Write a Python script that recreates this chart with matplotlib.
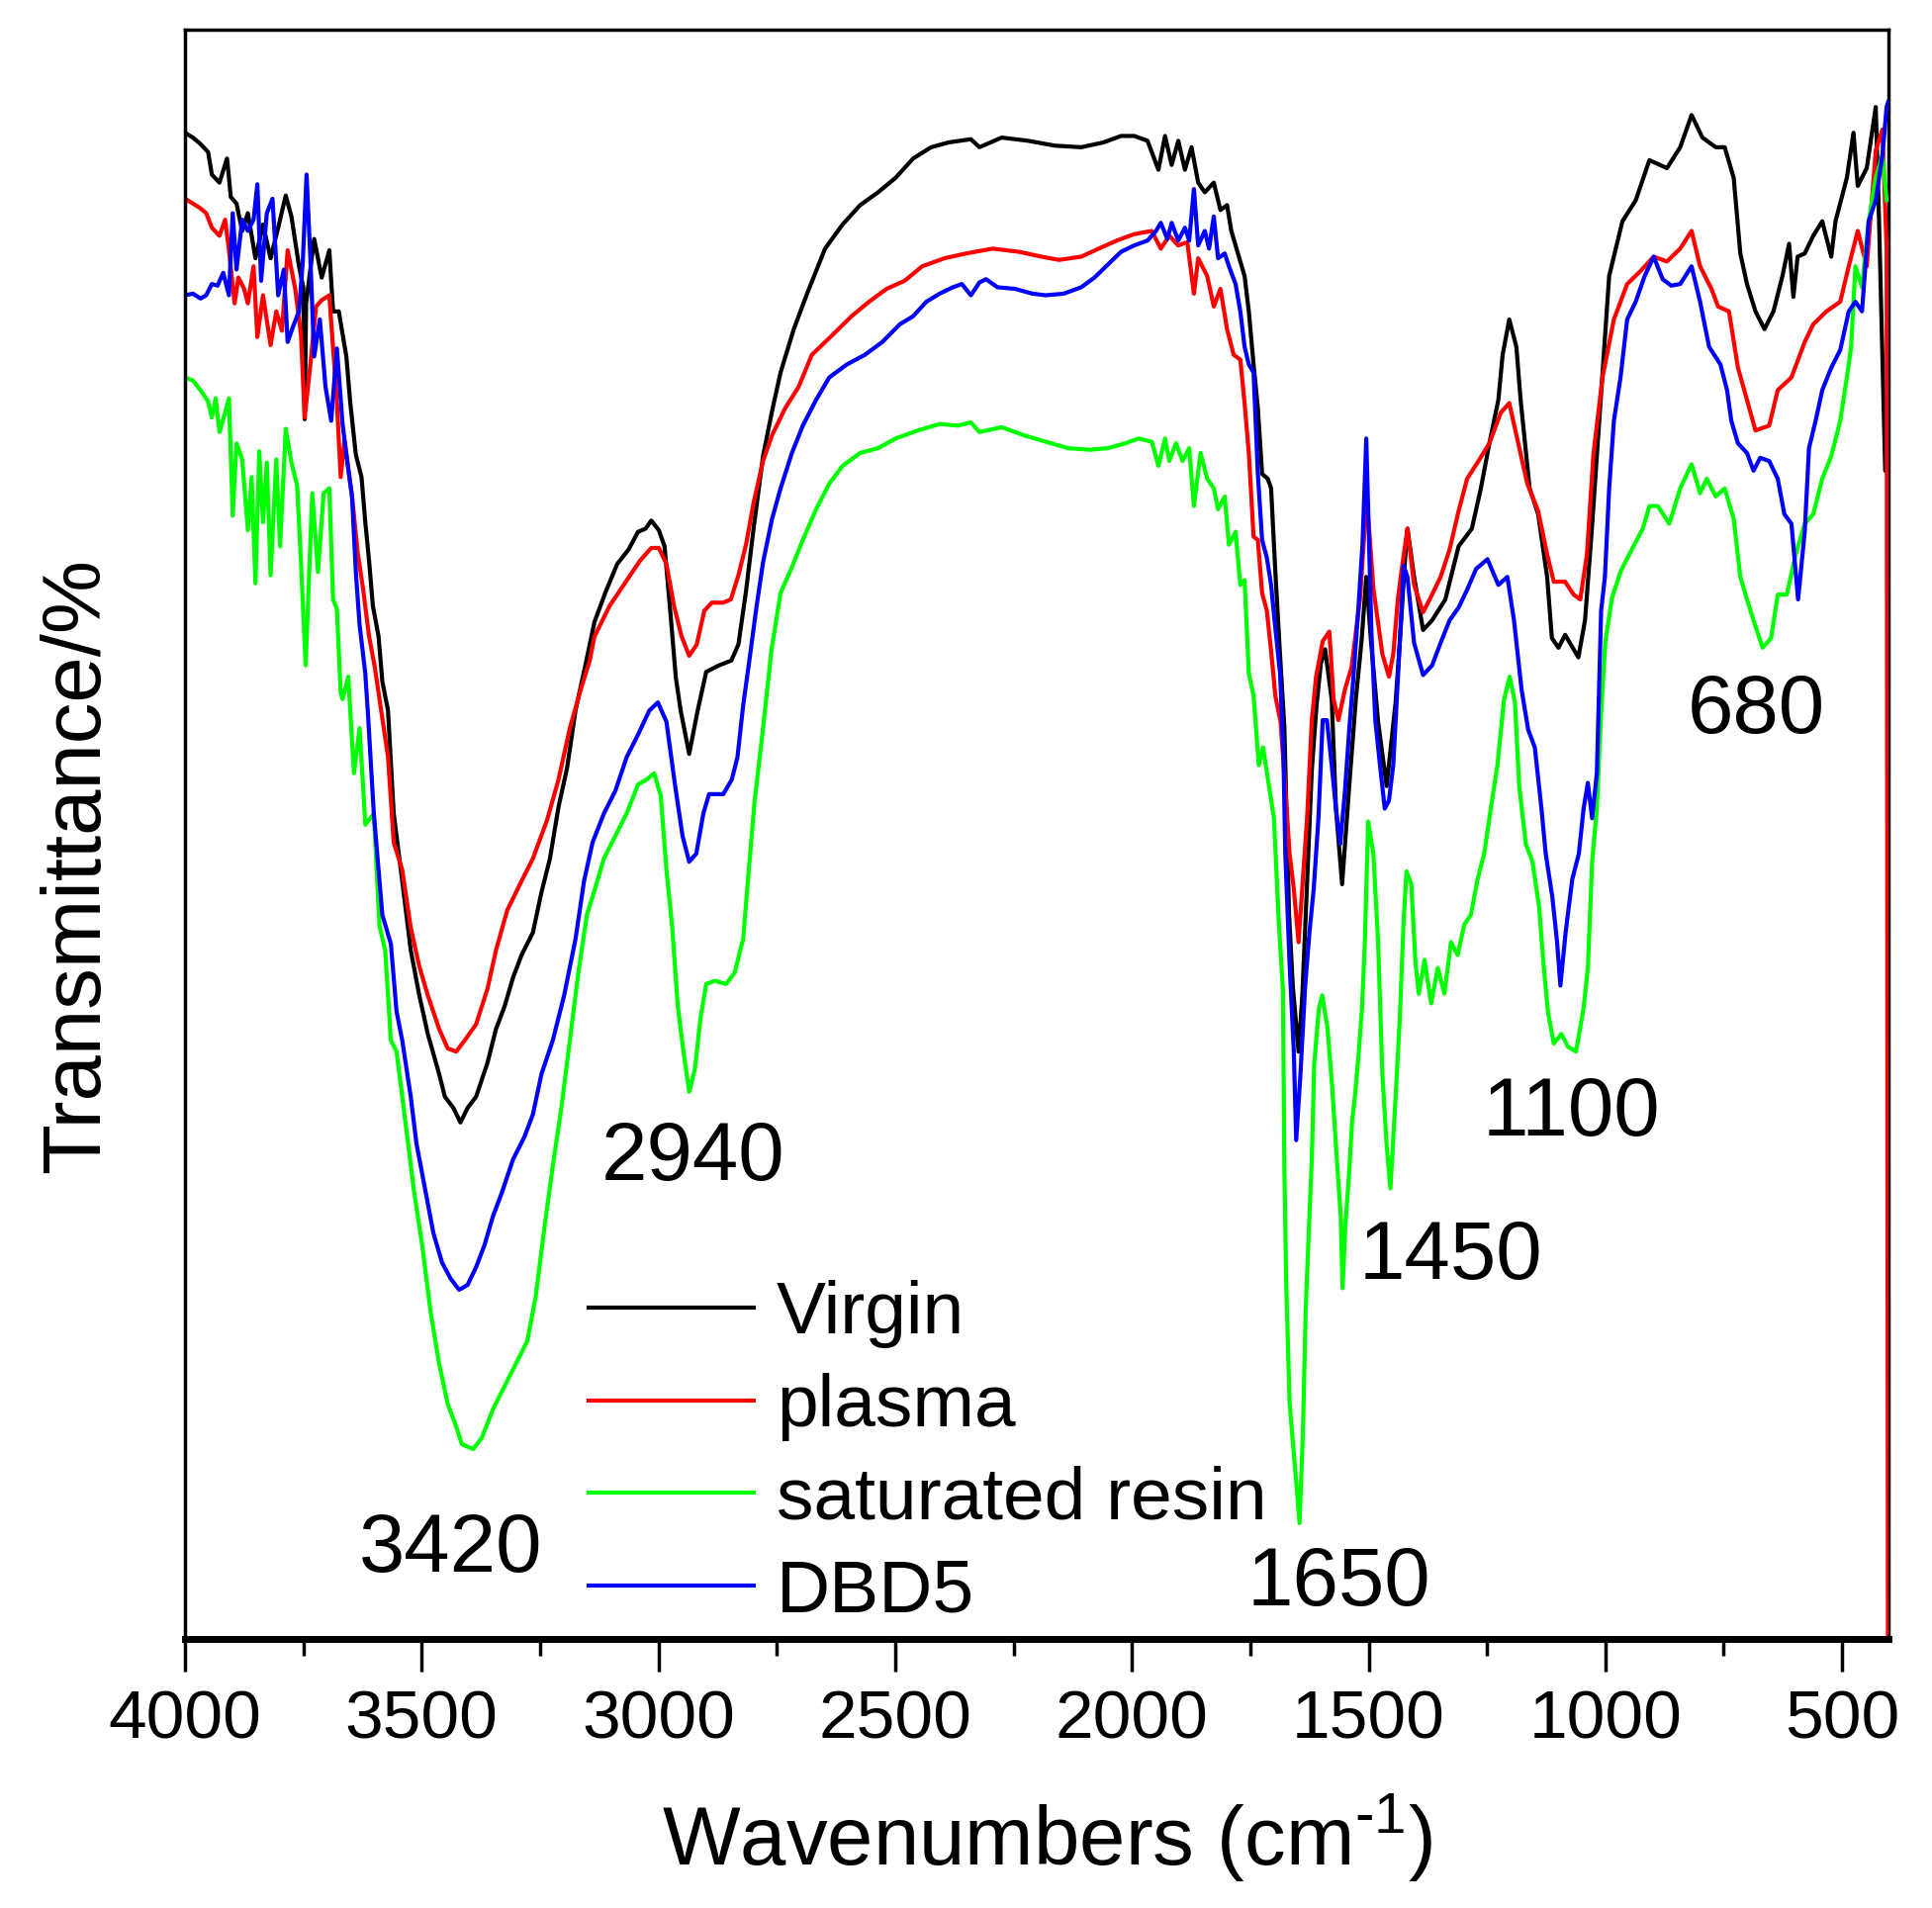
import matplotlib
matplotlib.use("Agg")
import matplotlib.pyplot as plt
from matplotlib.ticker import MultipleLocator

plt.rcParams['font.family'] = ['Liberation Sans', 'DejaVu Sans']
plt.rcParams['mathtext.fontset'] = 'custom'
plt.rcParams['mathtext.rm'] = 'Liberation Sans'

# wavenumbers (cm-1) and transmittance (arb. %)
virgin_wn = [4000, 3983, 3967, 3951, 3943, 3927, 3911, 3903, 3891, 3879, 3867, 3851, 3835, 3819,
             3803, 3787, 3775, 3759, 3750, 3747, 3744, 3727, 3711, 3695, 3687, 3675, 3659, 3651,
             3639, 3627, 3619, 3611, 3603, 3591, 3583, 3571, 3559, 3541, 3523, 3505, 3487, 3463,
             3451, 3433, 3418, 3403, 3385, 3361, 3343, 3325, 3307, 3289, 3265, 3247, 3229, 3211,
             3193, 3175, 3155, 3135, 3111, 3087, 3063, 3043, 3027, 3015, 2999, 2987, 2975, 2963,
             2953, 2935, 2917, 2899, 2872, 2846, 2831, 2815, 2799, 2779, 2760, 2742, 2714, 2686,
             2648, 2611, 2574, 2536, 2499, 2462, 2424, 2387, 2340, 2322, 2275, 2219, 2163, 2107,
             2060, 2023, 1995, 1967, 1944, 1930, 1916, 1902, 1888, 1874, 1860, 1846, 1827, 1813,
             1799, 1790, 1776, 1762, 1753, 1743, 1734, 1725, 1713, 1706, 1697, 1687, 1678, 1668,
             1660, 1648, 1640, 1630, 1620, 1610, 1601, 1592, 1578, 1569, 1556, 1541, 1527, 1515,
             1505, 1495, 1480, 1462, 1443, 1434, 1424, 1418, 1404, 1385, 1366, 1338, 1310, 1282,
             1263, 1245, 1226, 1217, 1203, 1188, 1179, 1160, 1142, 1123, 1113, 1099, 1085, 1057,
             1043, 1029, 1010, 992, 964, 936, 907, 870, 842, 818, 795, 767, 748, 729, 715, 701,
             683, 664, 645, 626, 612, 603, 594, 579, 561, 542, 523, 514, 490, 476, 467, 448, 429,
             422, 415, 409, 405]
virgin_t = [93.6, 93.3, 92.9, 92.4, 91.0, 90.5, 92.0, 89.6, 89.2, 87.5, 88.6, 85.8, 87.9, 85.8,
            87.7, 89.7, 88.4, 85.3, 84.0, 75.8, 83.0, 87.0, 84.6, 86.3, 82.5, 82.5, 79.7, 76.9,
            73.6, 72.2, 69.4, 67.0, 64.2, 62.3, 59.5, 57.7, 51.3, 47.1, 42.8, 40.0, 37.6, 35.1,
            33.7, 33.0, 32.1, 33.0, 33.7, 35.8, 37.9, 39.3, 41.1, 42.5, 43.9, 46.4, 48.5, 51.7,
            54.1, 57.7, 60.4, 63.2, 65.1, 66.8, 67.7, 68.8, 69.0, 69.5, 68.9, 67.9, 63.9, 59.7,
            57.7, 55.0, 57.7, 60.1, 60.5, 60.8, 61.8, 65.1, 69.0, 73.5, 76.3, 78.7, 81.4, 83.6,
            86.4, 87.9, 89.1, 89.9, 90.8, 92.0, 92.7, 93.0, 93.2, 92.7, 93.3, 93.1, 92.8, 92.7,
            93.0, 93.4, 93.4, 93.1, 91.3, 93.4, 91.6, 93.1, 91.3, 92.7, 90.5, 89.9, 90.5, 88.8,
            89.1, 87.5, 86.1, 84.7, 82.5, 79.2, 76.5, 72.4, 72.1, 71.5, 66.3, 61.1, 56.7, 45.0,
            40.5, 36.5, 40.0, 47.0, 54.0, 58.0, 60.6, 61.5, 58.4, 51.6, 46.9, 53.0, 58.4, 62.0,
            66.0, 62.0, 57.0, 53.0, 58.2, 62.0, 66.7, 69.0, 66.0, 62.7, 63.3, 64.6, 67.9, 69.0,
            71.5, 74.3, 77.0, 79.8, 82.0, 80.3, 77.0, 71.5, 69.9, 66.0, 62.2, 61.6, 62.4, 61.0,
            63.3, 68.8, 77.0, 84.7, 88.1, 89.4, 91.9, 91.4, 92.7, 94.7, 93.3, 92.7, 92.7, 90.8,
            86.1, 84.2, 82.5, 81.4, 82.5, 84.7, 86.7, 83.4, 85.9, 86.1, 87.2, 88.1, 85.9, 88.1,
            90.8, 93.6, 90.3, 91.4, 95.2, 88.1, 79.8, 72.6, 72.5]

plasma_wn = [4000, 3983, 3967, 3955, 3943, 3927, 3915, 3907, 3895, 3887, 3875, 3867, 3855, 3847,
             3835, 3819, 3807, 3795, 3783, 3767, 3755, 3747, 3735, 3723, 3711, 3695, 3679, 3671,
             3663, 3647, 3635, 3623, 3611, 3599, 3589, 3571, 3559, 3541, 3523, 3505, 3487, 3463,
             3445, 3427, 3409, 3385, 3361, 3343, 3319, 3289, 3265, 3235, 3211, 3187, 3163, 3145,
             3135, 3103, 3071, 3039, 3015, 2999, 2983, 2967, 2951, 2935, 2919, 2903, 2887, 2863,
             2847, 2831, 2815, 2799, 2779, 2760, 2732, 2704, 2676, 2630, 2592, 2555, 2518, 2480,
             2443, 2396, 2350, 2294, 2238, 2191, 2154, 2107, 2070, 2032, 1995, 1958, 1939, 1921,
             1902, 1883, 1869, 1860, 1841, 1827, 1813, 1799, 1785, 1771, 1762, 1753, 1743, 1734,
             1725, 1715, 1706, 1697, 1686, 1676, 1667, 1658, 1648, 1639, 1630, 1620, 1611, 1597,
             1583, 1574, 1564, 1550, 1536, 1518, 1504, 1490, 1471, 1457, 1448, 1438, 1429, 1418,
             1404, 1385, 1366, 1348, 1329, 1310, 1292, 1268, 1245, 1221, 1203, 1184, 1165, 1142,
             1123, 1109, 1085, 1067, 1053, 1039, 1025, 1006, 982, 954, 926, 898, 870, 842, 818,
             800, 776, 762, 739, 720, 701, 683, 654, 636, 607, 579, 561, 533, 504, 486, 467, 448,
             429, 415, 406, 403]
plasma_t = [89.5, 89.2, 88.9, 88.6, 87.7, 87.2, 88.2, 86.3, 83.0, 84.6, 83.9, 83.0, 85.3, 80.9,
            83.5, 80.4, 82.5, 81.3, 86.3, 83.9, 81.1, 75.9, 79.2, 82.8, 83.2, 83.5, 76.9, 72.2,
            74.5, 71.0, 67.5, 65.1, 62.3, 60.4, 58.4, 54.8, 49.5, 47.8, 44.2, 41.8, 40.0, 37.9,
            36.7, 36.5, 37.2, 38.2, 40.4, 42.8, 45.3, 47.1, 48.5, 50.9, 53.4, 56.6, 59.1, 60.8,
            62.3, 64.2, 65.6, 67.0, 67.8, 67.8, 66.8, 64.2, 62.3, 61.1, 61.8, 63.9, 64.4, 64.4,
            64.6, 66.1, 68.0, 70.6, 73.2, 74.8, 76.5, 77.8, 79.8, 81.1, 82.2, 83.1, 83.9, 84.4,
            85.3, 85.8, 86.1, 86.4, 86.2, 85.9, 85.7, 85.9, 86.4, 86.9, 87.3, 87.5, 86.4, 87.2,
            86.6, 86.8, 83.6, 85.8, 84.7, 82.8, 83.9, 81.4, 79.8, 79.5, 76.8, 73.7, 68.5, 68.3,
            65.0, 63.9, 61.4, 58.6, 57.0, 52.9, 48.8, 46.6, 43.3, 47.2, 51.0, 57.1, 59.8, 62.0,
            62.6, 58.4, 57.1, 59.0, 60.4, 64.7, 71.0, 65.3, 61.2, 59.8, 61.2, 64.7, 66.7, 69.0,
            65.5, 63.8, 64.9, 66.0, 67.7, 70.1, 72.1, 73.2, 74.3, 76.2, 76.8, 74.3, 71.8, 70.1,
            67.4, 65.7, 65.7, 64.9, 64.6, 67.4, 73.7, 78.4, 82.0, 84.2, 85.0, 85.9, 85.6, 86.4, 87.5,
            85.3, 83.9, 82.8, 82.5, 79.0, 77.0, 75.1, 75.4, 77.6, 78.4, 80.6, 81.7, 82.5, 83.1,
            85.3, 87.5, 85.3, 92.5, 93.8, 86.4, -10.0]

resin_wn = [4000, 3983, 3967, 3951, 3943, 3935, 3927, 3915, 3907, 3899, 3891, 3879, 3867, 3859,
            3851, 3843, 3835, 3827, 3819, 3807, 3799, 3787, 3775, 3763, 3755, 3745, 3731, 3719,
            3707, 3695, 3687, 3679, 3671, 3667, 3655, 3643, 3631, 3619, 3601, 3589, 3577, 3565,
            3553, 3541, 3529, 3517, 3499, 3481, 3463, 3445, 3427, 3415, 3391, 3373, 3349, 3325,
            3301, 3277, 3259, 3241, 3223, 3205, 3187, 3169, 3151, 3133, 3115, 3091, 3067, 3043,
            3025, 3009, 2995, 2983, 2971, 2959, 2947, 2935, 2923, 2911, 2899, 2881, 2857, 2839,
            2821, 2809, 2797, 2779, 2761, 2742, 2718, 2695, 2667, 2639, 2611, 2574, 2536, 2499,
            2452, 2406, 2368, 2340, 2322, 2275, 2228, 2182, 2135, 2088, 2051, 2014, 1986, 1958,
            1944, 1930, 1921, 1907, 1893, 1879, 1869, 1855, 1841, 1827, 1818, 1804, 1795, 1781,
            1771, 1762, 1753, 1743, 1732, 1723, 1709, 1700, 1690, 1681, 1678, 1674, 1667, 1660,
            1653, 1646, 1639, 1633, 1626, 1620, 1615, 1605, 1598, 1587, 1577, 1566, 1559, 1555,
            1549, 1542, 1535, 1528, 1521, 1514, 1508, 1501, 1490, 1480, 1471, 1462, 1454, 1443,
            1434, 1426, 1420, 1410, 1401, 1394, 1382, 1368, 1354, 1340, 1326, 1312, 1298, 1284,
            1270, 1256, 1242, 1228, 1214, 1202, 1191, 1182, 1168, 1154, 1140, 1130, 1121, 1109,
            1093, 1079, 1062, 1046, 1037, 1028, 1018, 1009, 1000, 986, 967, 939, 921, 907, 889,
            865, 842, 818, 800, 786, 767, 748, 729, 715, 701, 687, 668, 650, 636, 617, 598, 579,
            561, 542, 523, 504, 490, 481, 472, 458, 444, 429, 415, 406]
resin_t = [78.4, 78.2, 77.6, 76.9, 75.9, 77.1, 75.0, 76.2, 77.1, 69.8, 74.3, 73.3, 68.9, 72.2,
           65.6, 73.8, 69.4, 73.1, 66.1, 73.3, 67.9, 75.2, 73.1, 71.7, 67.0, 60.5, 71.2, 66.3,
           71.2, 71.5, 64.6, 64.0, 58.8, 58.4, 59.8, 53.8, 56.6, 50.6, 51.3, 44.3, 42.8, 37.2,
           36.5, 33.7, 30.9, 28.0, 24.5, 20.3, 17.1, 14.6, 13.2, 12.1, 11.8, 12.5, 14.3, 15.7,
           17.1, 18.5, 21.3, 25.5, 29.4, 33.0, 37.2, 41.4, 45.0, 46.7, 48.5, 49.9, 51.3, 53.1,
           53.4, 53.8, 52.4, 47.8, 44.3, 39.3, 36.5, 34.0, 35.4, 38.6, 40.7, 40.9, 40.7, 41.4,
           43.5, 47.8, 52.0, 56.6, 61.5, 65.0, 66.6, 68.3, 70.2, 71.8, 72.9, 73.7, 74.0, 74.6,
           75.1, 75.5, 75.4, 75.6, 75.0, 75.3, 74.8, 74.4, 74.0, 73.9, 74.0, 74.3, 74.6, 74.4,
           72.9, 74.6, 73.2, 74.3, 73.2, 74.0, 70.4, 73.7, 72.1, 71.5, 70.2, 71.0, 68.0, 68.8,
           65.5, 65.8, 60.0, 58.6, 54.3, 55.4, 52.7, 51.0, 44.7, 40.3, 29.3, 22.0, 14.7, 12.2,
           9.8, 7.2, 12.6, 20.4, 25.6, 29.8, 35.7, 39.2, 40.0, 38.0, 34.3, 29.3, 26.3, 21.8,
           25.8, 28.6, 32.1, 34.0, 36.4, 39.2, 43.3, 50.8, 48.8, 43.3, 35.1, 30.7, 28.0, 33.7,
           38.7, 44.7, 47.7, 46.9, 42.0, 40.1, 42.2, 39.5, 41.7, 40.1, 43.3, 42.5, 44.4, 45.0,
           47.2, 48.8, 51.6, 54.3, 58.4, 59.8, 58.2, 53.0, 49.4, 48.3, 45.5, 41.7, 38.9, 37.0,
           37.6, 36.8, 36.5, 39.2, 41.7, 48.3, 51.6, 57.6, 62.0, 64.7, 66.4, 68.0, 69.0, 70.4, 70.4,
           69.3, 71.5, 73.0, 71.2, 72.1, 71.0, 71.5, 69.6, 66.0, 64.6, 63.3, 61.6, 62.2, 64.9,
           64.9, 67.4, 69.3, 69.9, 72.1, 73.5, 75.7, 78.4, 80.3, 85.3, 84.0, 88.1, 90.8, 92.2,
           89.4]

dbd5_wn = [4000, 3983, 3967, 3955, 3943, 3931, 3919, 3907, 3899, 3891, 3879, 3867, 3855, 3847,
           3839, 3827, 3815, 3803, 3791, 3783, 3771, 3759, 3751, 3743, 3735, 3727, 3715, 3703,
           3691, 3679, 3667, 3655, 3647, 3639, 3631, 3619, 3613, 3601, 3583, 3565, 3553, 3541,
           3523, 3511, 3493, 3475, 3457, 3439, 3421, 3403, 3385, 3367, 3349, 3331, 3307, 3283,
           3265, 3247, 3223, 3199, 3175, 3157, 3139, 3115, 3091, 3067, 3043, 3019, 3001, 2983,
           2965, 2949, 2935, 2920, 2905, 2893, 2863, 2845, 2833, 2821, 2807, 2793, 2779, 2760,
           2742, 2718, 2695, 2667, 2639, 2602, 2564, 2527, 2490, 2462, 2434, 2406, 2378, 2359,
           2340, 2322, 2308, 2284, 2247, 2210, 2182, 2144, 2107, 2079, 2051, 2023, 1995, 1967,
           1949, 1939, 1925, 1916, 1902, 1888, 1879, 1869, 1860, 1846, 1837, 1827, 1818, 1804,
           1795, 1781, 1771, 1762, 1753, 1743, 1734, 1725, 1715, 1706, 1697, 1687, 1680, 1676,
           1667, 1658, 1653, 1644, 1634, 1625, 1616, 1606, 1597, 1588, 1578, 1569, 1560, 1550,
           1541, 1532, 1522, 1513, 1505, 1499, 1494, 1486, 1476, 1466, 1457, 1448, 1438, 1426,
           1418, 1404, 1385, 1366, 1348, 1329, 1310, 1292, 1273, 1249, 1226, 1207, 1193, 1177,
           1163, 1149, 1135, 1126, 1112, 1102, 1095, 1084, 1070, 1056, 1046, 1037, 1028, 1018,
           1009, 1001, 992, 982, 968, 954, 936, 917, 898, 879, 861, 842, 818, 800, 781, 757, 743,
           734, 720, 701, 687, 673, 654, 636, 622, 607, 593, 579, 570, 556, 542, 523, 504, 486,
           472, 458, 444, 429, 415, 406, 403]
dbd5_t = [83.5, 83.6, 83.3, 83.5, 84.2, 84.1, 84.9, 83.5, 88.6, 85.1, 88.2, 87.5, 88.2, 90.4,
          84.4, 88.6, 89.5, 83.5, 85.1, 80.6, 81.6, 82.5, 85.6, 91.0, 85.8, 79.7, 82.0, 77.8,
          75.7, 80.2, 75.5, 72.7, 71.0, 66.3, 63.0, 60.0, 57.3, 51.3, 45.0, 43.2, 39.0, 37.2,
          33.7, 30.8, 28.0, 25.2, 23.4, 22.4, 21.7, 22.0, 23.1, 24.5, 26.3, 27.7, 29.8, 31.2,
          32.6, 35.1, 37.2, 40.0, 43.5, 47.1, 49.5, 51.3, 52.7, 54.8, 56.2, 57.7, 58.2, 57.0,
          53.1, 49.9, 48.3, 48.8, 51.3, 52.5, 52.5, 53.4, 54.8, 58.0, 61.0, 64.1, 66.9, 69.6,
          71.5, 73.7, 75.4, 77.0, 78.4, 79.2, 79.8, 80.6, 81.7, 82.2, 83.1, 83.6, 84.0, 84.2,
          83.5, 84.3, 84.5, 84.0, 83.9, 83.6, 83.5, 83.6, 84.0, 84.6, 85.4, 86.2, 86.6, 86.9,
          87.5, 88.0, 87.0, 88.0, 86.9, 87.7, 86.9, 90.1, 86.6, 87.5, 86.4, 88.4, 85.8, 86.1,
          85.3, 84.2, 82.5, 80.3, 79.2, 78.7, 72.4, 68.3, 67.2, 65.5, 62.8, 60.0, 55.0, 48.8,
          42.0, 36.5, 31.0, 35.1, 40.6, 43.9, 46.6, 51.0, 57.1, 57.1, 54.3, 51.6, 49.4, 52.7,
          56.5, 59.8, 63.9, 68.0, 74.6, 68.0, 62.5, 57.1, 54.3, 51.6, 52.1, 54.3, 59.8, 66.7,
          66.0, 61.9, 59.9, 60.5, 61.9, 63.3, 64.1, 65.2, 66.5, 67.1, 65.5, 66.0, 63.3, 59.0,
          56.5, 55.4, 51.6, 48.8, 46.1, 43.3, 40.6, 43.9, 47.2, 48.8, 51.6, 53.2, 51.0, 53.8,
          63.9, 66.0, 71.5, 75.7, 78.4, 82.0, 83.1, 84.7, 85.9, 84.5, 84.1, 84.2, 85.3, 83.1,
          80.3, 79.2, 77.6, 75.7, 74.3, 73.7, 72.6, 73.4, 73.2, 72.1, 69.9, 69.3, 64.6, 68.8,
          74.0, 75.7, 77.6, 79.0, 80.1, 82.5, 83.1, 82.5, 88.1, 89.4, 92.2, 95.2, 95.5]

series_names = ["Virgin", "plasma", "saturated resin", "DBD5"]
series_colors = ["#000000", "#ff0000", "#00ff00", "#0000ff"]

peak_labels = ["3420", "2940", "1650", "1450", "1100", "680"]
peak_label_wn = [3438, 2926, 1562, 1327, 1072, 682]
peak_label_t = [4.2, 28.5, 2.1, 22.4, 31.3, 56.3]

fig = plt.figure(figsize=(19.53, 19.29), dpi=100)
ax = fig.add_axes([0.0957, 0.141, 0.8818, 0.8434])

data = [(virgin_wn, virgin_t), (plasma_wn, plasma_t), (resin_wn, resin_t), (dbd5_wn, dbd5_t)]
for (wn, t), name, col in zip(data, series_names, series_colors):
    ax.plot(wn, t, color=col, lw=3.0, label=name)

for lab, w, t in zip(peak_labels, peak_label_wn, peak_label_t):
    ax.text(w, t, lab, fontsize=60, ha='center', va='baseline')

ax.set_xlim(4000, 402)
ax.set_ylim(0, 100)
ax.xaxis.set_major_locator(MultipleLocator(500))
ax.xaxis.set_minor_locator(MultipleLocator(250))
ax.set_yticks([])
ax.tick_params(axis='x', which='major', direction='out', length=23.5, width=2.5,
               labelsize=50, pad=13, top=False)
ax.tick_params(axis='x', which='minor', direction='out', length=12.5, width=2.5, top=False)

for side in ['left', 'top', 'right']:
    ax.spines[side].set_linewidth(2.5)
ax.spines['bottom'].set_linewidth(5)
# the plasma trace drops along the right edge, so draw it over that spine
ax.spines['right'].set_zorder(1.5)

ax.set_xlabel(r'Wavenumbers (cm$^{\text{-1}}$)', fontsize=60)
ax.xaxis.set_label_coords(0.506, -0.095)
ax.set_ylabel('Transmittance/%', fontsize=60)
ax.yaxis.set_label_coords(-0.0407, 0.4806)

ax.legend(loc='upper left', bbox_to_anchor=(0.237, 0.223), frameon=False, fontsize=54,
          borderpad=0, borderaxespad=0, handlelength=2.23, handletextpad=0.3,
          labelspacing=0.33)

fig.savefig("out.png", dpi=100)
